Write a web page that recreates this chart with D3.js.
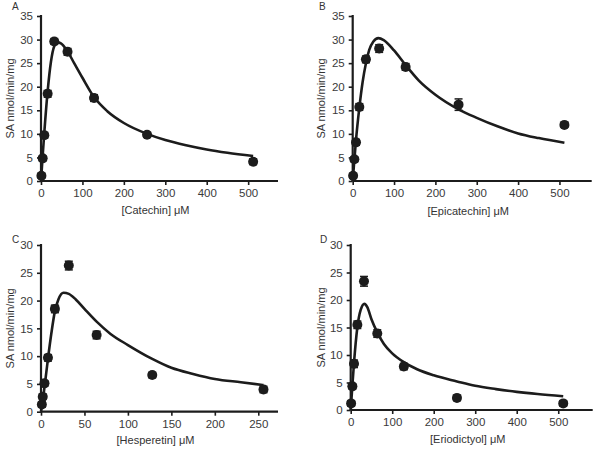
<!DOCTYPE html>
<html><head><meta charset="utf-8">
<script src="https://cdn.jsdelivr.net/npm/d3@7"></script>
<style>body{margin:0;background:#fff;} svg{display:block;}</style>
</head><body>
<svg id="c" width="600" height="450"></svg>
<script>
// ---- data ----
const panelLetters = ["A", "B", "C", "D"];
const compounds = ["Catechin", "Epicatechin", "Hesperetin", "Eriodictyol"];
const yTitle = "SA nmol/min/mg";

const concA = [1, 4, 8, 16, 32, 64, 128, 256, 512];
const saA   = [1.1, 4.8, 9.7, 18.5, 29.6, 27.4, 17.6, 9.8, 4.1];
const errA  = [0.3, 0.3, 0.4, 0.5, 0.4, 0.5, 0.5, 0.3, 0.4];
const fitSA = [0, 2, 4, 8, 16, 24, 32, 40, 48, 64, 80, 100, 128, 160, 200, 256, 300, 350, 400, 450, 512];
const fitVA = [0, 2.6, 5.3, 10.3, 19, 25.3, 28.6, 29.4, 29.2, 27.5, 25, 21.9, 17.8, 14.8, 12.3, 10, 8.7, 7.6, 6.7, 6.0, 5.3];

const concB = [1, 4, 8, 16, 32, 64, 128, 256, 512];
const saB   = [1.1, 4.6, 8.2, 15.7, 25.8, 28.1, 24.2, 16.2, 11.9];
const errB  = [0.3, 0.3, 0.4, 0.5, 0.5, 0.6, 0.5, 1.0, 0.3];
const fitSB = [0, 4, 8, 16, 24, 32, 40, 50, 62, 75, 100, 128, 160, 200, 256, 300, 350, 400, 450, 512];
const fitVB = [0, 4.5, 8.7, 15.5, 21, 25, 27.8, 29.6, 30.3, 29.9, 27.7, 24.6, 21.3, 18.3, 15.2, 13.4, 11.6, 10.1, 9.1, 8.1];

const concC = [1, 2, 4, 8, 16, 32, 64, 128, 256];
const saC   = [1.3, 2.7, 5.1, 9.7, 18.5, 26.3, 13.8, 6.6, 4.0];
const errC  = [0.3, 0.3, 0.3, 0.4, 0.5, 0.6, 0.5, 0.3, 0.4];
const fitSC = [0, 2, 4, 8, 12, 16, 20, 26, 32, 40, 50, 64, 80, 100, 128, 150, 175, 200, 230, 256];
const fitVC = [0, 2, 4.4, 9.5, 14.2, 18.1, 20.2, 21.4, 21.2, 20.2, 18.5, 16.2, 14, 12, 9.5, 7.9, 6.8, 5.9, 5.3, 4.8];

const concD = [1, 4, 8, 16, 32, 64, 128, 256, 512];
const saD   = [1.2, 4.3, 8.4, 15.5, 23.4, 13.9, 7.9, 2.2, 1.2];
const errD  = [0.3, 0.3, 0.5, 0.5, 0.7, 0.5, 0.4, 0.3, 0.3];
const fitSD = [0, 4, 8, 16, 24, 33, 40, 50, 64, 80, 100, 128, 160, 200, 256, 300, 350, 400, 450, 512];
const fitVD = [0, 4.4, 8.6, 15, 18.2, 19.3, 18.7, 16.5, 14.1, 12, 10.3, 8.7, 7.4, 6.3, 5.2, 4.4, 3.8, 3.3, 2.9, 2.5];

const yTicksAB = [0, 5, 10, 15, 20, 25, 30, 35];
const yTicksCD = [0, 5, 10, 15, 20, 25, 30];
const xTicks500 = [0, 100, 200, 300, 400, 500];
const xTicks250 = [0, 50, 100, 150, 200, 250];

// ---- layout ----
const panels = [
  {letter: panelLetters[0], name: compounds[0], conc: concA, sa: saA, err: errA, fs: fitSA, fv: fitVA,
   x0: 41, x1: 278, xmax: 572, xt: xTicks500, yTop: 16, yBot: 181, ymax: 35, yt: yTicksAB,
   lx: 12, ly: 10, ytx: 10, xtY: 214},
  {letter: panelLetters[1], name: compounds[1], conc: concB, sa: saB, err: errB, fs: fitSB, fv: fitVB,
   x0: 352.7, x1: 591.7, xmax: 578, xt: xTicks500, yTop: 16, yBot: 181, ymax: 35, yt: yTicksAB,
   lx: 319, ly: 10, ytx: 321, xtY: 215},
  {letter: panelLetters[2], name: compounds[2], conc: concC, sa: saC, err: errC, fs: fitSC, fv: fitVC,
   x0: 41, x1: 278, xmax: 272.7, xt: xTicks250, yTop: 245, yBot: 411.7, ymax: 30, yt: yTicksCD,
   lx: 12, ly: 243, ytx: 10, xtY: 444},
  {letter: panelLetters[3], name: compounds[3], conc: concD, sa: saD, err: errD, fs: fitSD, fv: fitVD,
   x0: 350.7, x1: 592.7, xmax: 583, xt: xTicks500, yTop: 245, yBot: 410, ymax: 30, yt: yTicksCD,
   lx: 320, ly: 243, ytx: 321, xtY: 443}
];

const svg = d3.select("#c");
const ink = "#1c1c1c";
const font = "'Liberation Sans', Arial, Helvetica, sans-serif";

panels.forEach(p => {
  const g = svg.append("g");
  const x = d3.scaleLinear().domain([0, p.xmax]).range([p.x0, p.x1]);
  const y = d3.scaleLinear().domain([0, p.ymax]).range([p.yBot, p.yTop]);

  const xa = g.append("g").attr("transform", `translate(0,${p.yBot})`)
    .call(d3.axisBottom(x).tickValues(p.xt).tickSize(4).tickPadding(4).tickFormat(d3.format("d")));
  const ya = g.append("g").attr("transform", `translate(${p.x0},0)`)
    .call(d3.axisLeft(y).tickValues(p.yt).tickSize(4).tickPadding(4).tickFormat(d3.format("d")));
  [xa, ya].forEach(a => {
    a.select(".domain").attr("stroke", ink).attr("stroke-width", 2.2);
    a.selectAll(".tick line").attr("stroke", ink).attr("stroke-width", 1.6);
    a.selectAll(".tick text").attr("fill", "#3a3a3a").style("font-family", font).style("font-size", "11.5px");
  });
  xa.select(".domain").attr("d", `M${p.x0},0H${p.x1}`);
  ya.select(".domain").attr("d", `M0,${p.yBot}V${p.yTop - 1}`);

  const pts = p.fs.map((s, i) => [s, p.fv[i]]);
  g.append("path").datum(pts)
    .attr("d", d3.line().x(d => x(d[0])).y(d => y(d[1])).curve(d3.curveMonotoneX))
    .attr("fill", "none").attr("stroke", ink).attr("stroke-width", 2.6);

  const data = p.conc.map((c, i) => ({c, v: p.sa[i], e: p.err[i]}));
  const pg = g.append("g").selectAll("g").data(data).join("g");
  pg.append("line")
    .attr("x1", d => x(d.c)).attr("x2", d => x(d.c))
    .attr("y1", d => y(d.v + d.e) - 1).attr("y2", d => y(d.v - d.e) + 1)
    .attr("stroke", ink).attr("stroke-width", 1.5);
  pg.append("line").attr("x1", d => x(d.c) - 4).attr("x2", d => x(d.c) + 4)
    .attr("y1", d => y(d.v + d.e) - 1).attr("y2", d => y(d.v + d.e) - 1)
    .attr("stroke", ink).attr("stroke-width", 1.5);
  pg.append("line").attr("x1", d => x(d.c) - 4).attr("x2", d => x(d.c) + 4)
    .attr("y1", d => y(d.v - d.e) + 1).attr("y2", d => y(d.v - d.e) + 1)
    .attr("stroke", ink).attr("stroke-width", 1.5);
  pg.append("circle").attr("cx", d => x(d.c)).attr("cy", d => y(d.v)).attr("r", 5).attr("fill", ink);

  g.append("text").attr("x", p.lx).attr("y", p.ly).text(p.letter)
    .attr("fill", "#333").style("font-family", font).style("font-size", "10px");
  g.append("text")
    .attr("transform", `translate(${p.ytx + 4},${(p.yTop + p.yBot) / 2}) rotate(-90)`)
    .attr("text-anchor", "middle").text(yTitle)
    .attr("fill", "#333").style("font-family", font).style("font-size", "11px");
  g.append("text").attr("x", (p.x0 + p.x1) / 2 - 4).attr("y", p.xtY)
    .attr("text-anchor", "middle").text(`[${p.name}] \u03BCM`)
    .attr("fill", "#333").style("font-family", font).style("font-size", "11px");
});
</script>
</body></html>
